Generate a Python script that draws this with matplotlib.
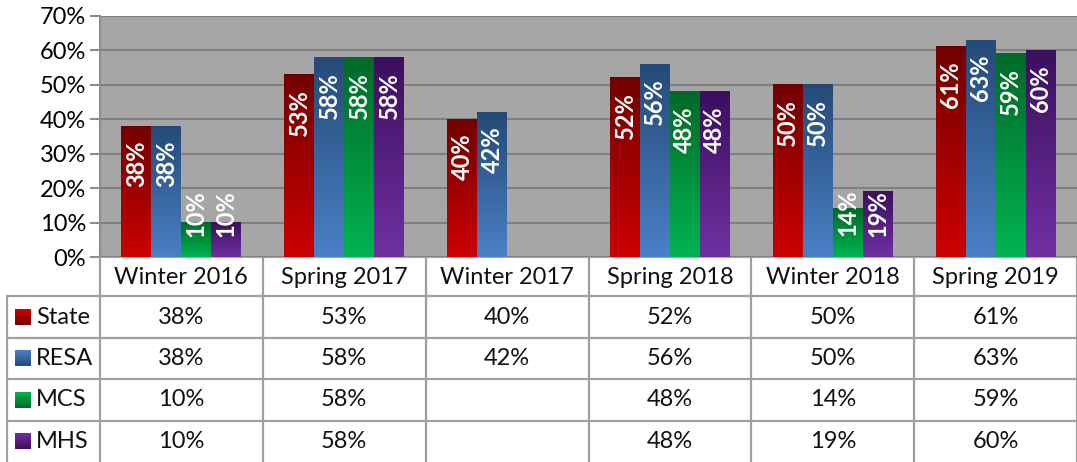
import numpy as np
import matplotlib
matplotlib.use("Agg")
import matplotlib.pyplot as plt
from matplotlib.colors import LinearSegmentedColormap

plt.rcParams['font.family'] = ['Lato', 'DejaVu Sans']

categories = ['Winter 2016', 'Spring 2017', 'Winter 2017', 'Spring 2018', 'Winter 2018', 'Spring 2019']
series = ['State', 'RESA', 'MCS', 'MHS']
state = [38, 53, 40, 52, 50, 61]
resa = [38, 58, 42, 56, 50, 63]
mcs = [10, 58, np.nan, 48, 14, 59]
mhs = [10, 58, np.nan, 48, 19, 60]
values = [state, resa, mcs, mhs]
# (top colour, bottom colour) of each bar gradient
grads = [('#720000', '#cc0000'), ('#254a77', '#4a80c6'),
         ('#006a28', '#00b450'), ('#3c0f5e', '#7030a2')]

W, H = 1077, 462
fig = plt.figure(figsize=(W / 100, H / 100), dpi=100)
ax = fig.add_axes([100 / W, (H - 257) / H, 977 / W, 241 / H])
tab = fig.add_axes([6 / W, 0, 1071 / W, 205 / H])

fs = 17
ax.set_facecolor('#a6a6a6')
ax.set_xlim(-0.5, 5.5)
ax.set_ylim(0, 70)
ax.set_yticks(range(0, 71, 10))
ax.set_yticklabels([f'{t}%' for t in range(0, 71, 10)], fontsize=fs)
ax.set_xticks([])
ax.grid(axis='y', color='#808080', linewidth=1.5)
ax.set_axisbelow(True)
for s in ['top', 'right']:
    ax.spines[s].set_visible(False)
ax.spines['left'].set_color('#8c8c8c')
ax.spines['left'].set_linewidth(1.5)
ax.spines['bottom'].set_color('#a6a6a6')
ax.tick_params(axis='y', length=7, width=1.5, color='#8c8c8c', pad=3)

bw = 0.184
x = np.arange(len(categories))
cmaps = []
for i, (name, vals) in enumerate(zip(series, values)):
    cm = LinearSegmentedColormap.from_list(name, [grads[i][1], grads[i][0]])
    cmaps.append(cm)
    pos = x + (i - 1.5) * bw
    bars = ax.bar(pos, np.nan_to_num(vals), bw, color=grads[i][1], zorder=2)
    for b, v in zip(bars, vals):
        if np.isnan(v):
            continue
        g = np.linspace(0, 1, 128).reshape(-1, 1)
        ax.imshow(g, cmap=cm, extent=[b.get_x(), b.get_x() + b.get_width(), 0, b.get_height()],
                  origin='lower', aspect='auto', zorder=3)
        ty = max(v - 4.2, 19.5)
        ax.text(b.get_x() + b.get_width() / 2, ty, f'{v:.0f}%', rotation=90, ha='center',
                va='top', color='white', fontweight='bold', fontsize=fs, zorder=4)
ax.set_xlim(-0.5, 5.5)
ax.set_ylim(0, 70)

# data table
lx = -0.5 - 94 / (977 / 6)
tab.set_xlim(lx, 5.5)
tab.set_ylim(205, 0)
tab.axis('off')
row_y = [0, 39, 81, 122, 164, 205]
lc = '#a0a0a0'
for xv in np.arange(-0.5, 5.6, 1):
    tab.plot([xv, xv], [0, 205], color=lc, linewidth=1.6, solid_capstyle='butt')
tab.plot([lx + 0.004, lx + 0.004], [39, 205], color=lc, linewidth=1.6, solid_capstyle='butt')
for yv in row_y[1:5]:
    tab.plot([lx, 5.5], [yv, yv], color=lc, linewidth=1.6, solid_capstyle='butt')
for j, c in enumerate(categories):
    tab.text(j, 20, c, ha='center', va='center', fontsize=fs, color='#111111')
for i, (name, vals) in enumerate(zip(series, values)):
    yc = (row_y[i + 1] + row_y[i + 2]) / 2
    kx = lx + 9 / (977 / 6)
    kw = 16 / (977 / 6)
    g = np.linspace(0, 1, 64).reshape(-1, 1)
    tab.imshow(g, cmap=cmaps[i], extent=[kx, kx + kw, yc + 8, yc - 8], origin='upper', aspect='auto')
    tab.text(kx + kw + 5 / (977 / 6), yc, name, ha='left', va='center', fontsize=fs, color='#111111')
    for j, v in enumerate(vals):
        if not np.isnan(v):
            tab.text(j, yc, f'{v:.0f}%', ha='center', va='center', fontsize=fs, color='#111111')
tab.set_xlim(lx, 5.5)
tab.set_ylim(205, 0)

fig.savefig('out.png', dpi=100)
